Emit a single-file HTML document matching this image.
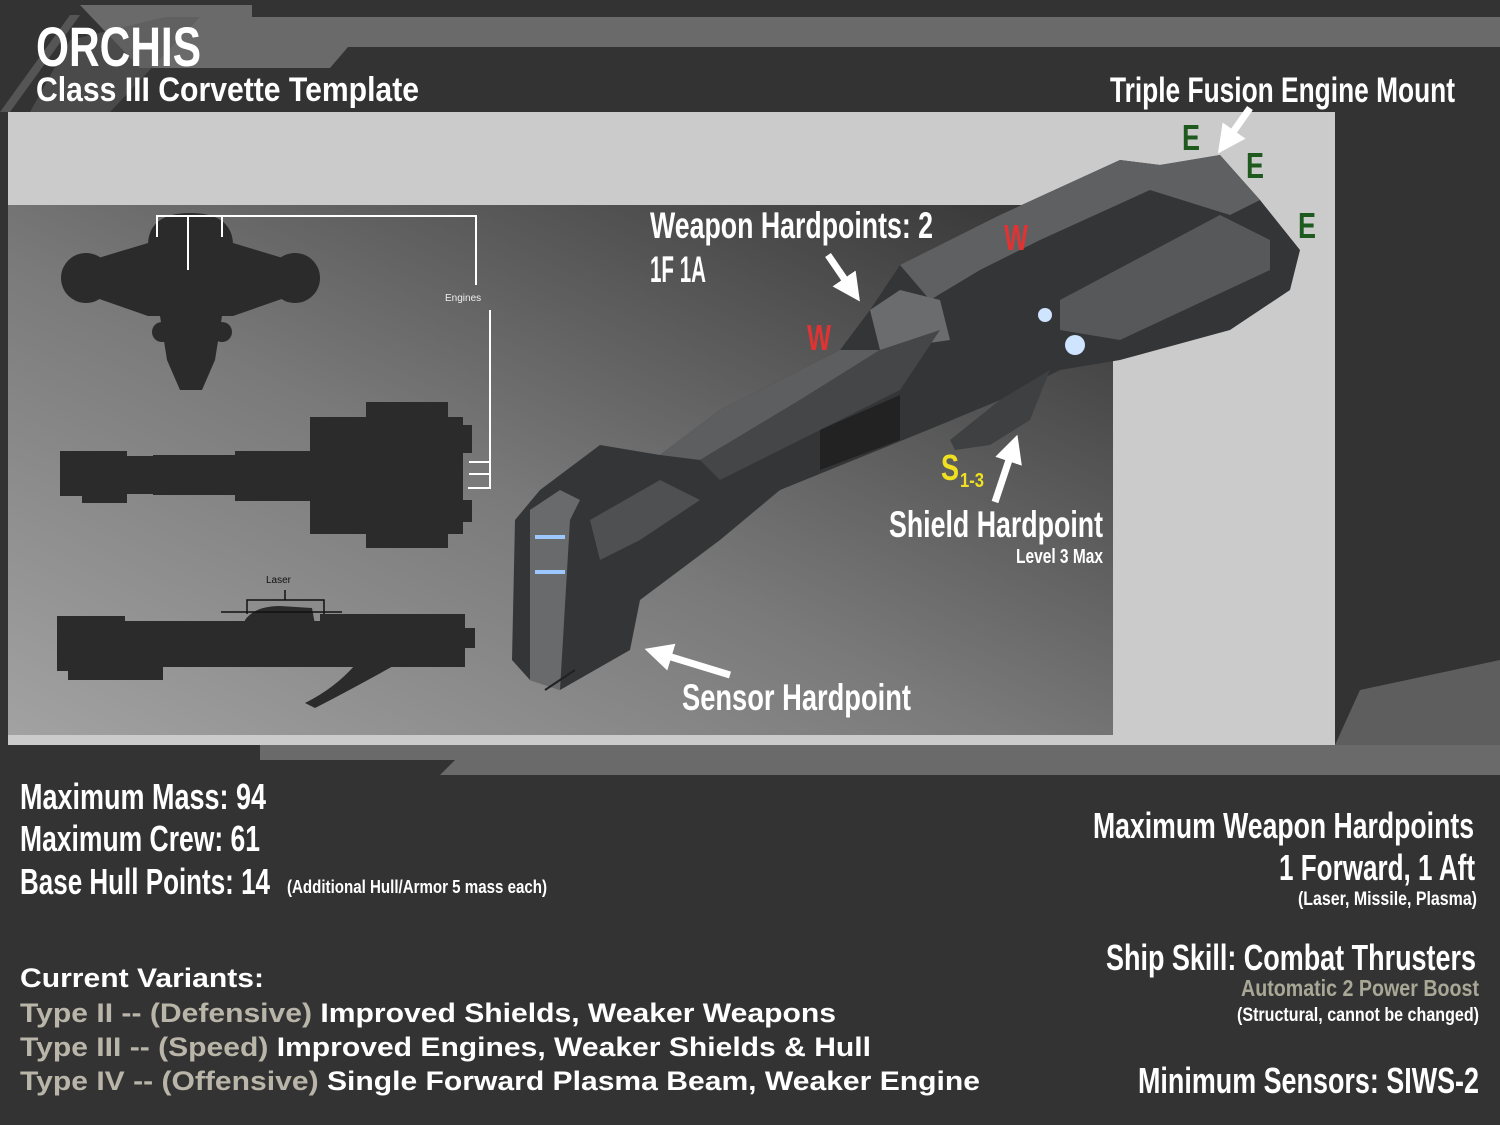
<!DOCTYPE html>
<html><head><meta charset="utf-8"><style>
html,body{margin:0;padding:0;background:#333;}
svg{display:block}
.c{font-family:"Liberation Sans Narrow","Liberation Sans",sans-serif;font-weight:bold;fill:#fff}
.a{font-family:"Liberation Sans",sans-serif;font-weight:bold;fill:#fff}
</style></head><body>
<svg width="1500" height="1125" viewBox="0 0 1500 1125" xmlns="http://www.w3.org/2000/svg">
<defs>
<linearGradient id="g" x1="0" y1="1" x2="1" y2="0">
<stop offset="0" stop-color="#a2a2a2"/><stop offset="0.45" stop-color="#7a7a7a"/><stop offset="1" stop-color="#333"/>
</linearGradient>
<marker id="ah" markerWidth="4" markerHeight="4" refX="2" refY="2" orient="auto"><path d="M0,0 L4,2 L0,4z" fill="#fff"/></marker>
</defs>
<rect width="1500" height="1125" fill="#333"/>
<polygon points="80,5 252,5 252,17 1500,17 1500,47 348,47 330,68 140,68" fill="#6a6a6a"/>
<polygon points="30,112 70,40 165,17 200,17 110,112" fill="#5a5a5a" opacity="0.6"/>
<polygon points="0,112 70,15 80,15 10,112" fill="#777" opacity="0.5"/>
<polygon points="260,745 1500,745 1500,775 440,775 455,760 260,760" fill="#6a6a6a"/>
<polygon points="1335,745 1360,690 1500,660 1500,745" fill="#5e5e5e"/>
<rect x="8" y="112" width="1327" height="633" fill="#cbcbcb"/>
<rect x="8" y="205" width="1105" height="530" fill="url(#g)"/>
<g fill="#2b2b2b">
<circle cx="86" cy="278" r="25"/><circle cx="295" cy="278" r="25"/>
<polygon points="85,262 148,243 148,316 85,294"/><polygon points="296,262 233,243 233,316 296,294"/>
<path d="M148,243 Q150,213 190,213 Q231,213 233,243 L233,316 L148,316z"/>
<circle cx="162" cy="332" r="10"/><circle cx="222" cy="332" r="10"/>
<polygon points="160,316 222,316 215,360 202,390 180,390 167,360"/>
<rect x="60" y="451" width="65" height="45"/><rect x="82" y="451" width="45" height="52"/>
<rect x="125" y="456" width="30" height="38"/><rect x="153" y="455" width="160" height="40"/>
<rect x="235" y="451" width="80" height="50"/>
<rect x="310" y="417" width="153" height="117"/><rect x="366" y="402" width="82" height="146"/>
<rect x="462" y="425" width="10" height="28"/><rect x="462" y="500" width="10" height="22"/>
<rect x="57" y="616" width="68" height="55"/><rect x="125" y="621" width="340" height="46"/>
<rect x="68" y="660" width="95" height="20"/><rect x="320" y="614" width="145" height="20"/>
<path d="M245,620 Q255,606 280,606 L312,608 L316,630 L245,630z"/>
<rect x="465" y="628" width="10" height="20"/>
<path d="M355,665 L395,665 Q350,690 315,708 L305,703 Q335,688 355,665z"/>
</g>
<g stroke="#fff" stroke-width="2" fill="none">
<polyline points="157,237 157,216 476,216 476,285"/>
<line x1="188" y1="216" x2="188" y2="270"/><line x1="222" y1="216" x2="222" y2="237"/>
<polyline points="490,310 490,488 468,488"/>
<line x1="469" y1="462" x2="490" y2="462"/><line x1="469" y1="474" x2="490" y2="474"/>
</g>
<text x="445" y="301" font-family="Liberation Sans" font-size="10" fill="#eee">Engines</text>
<g stroke="#111" stroke-width="1.5" fill="none"><polyline points="247,614 247,600 324,600 324,614"/><line x1="285" y1="600" x2="285" y2="590"/><line x1="221" y1="612" x2="342" y2="612"/></g>
<text x="266" y="583" font-family="Liberation Sans" font-size="10" fill="#111">Laser</text>
<g>
<polygon points="515,520 540,490 600,445 660,455 720,410 840,350 870,310 900,265 1000,215 1120,160 1160,165 1220,155 1260,200 1300,250 1290,290 1230,330 1120,360 1060,370 1000,400 940,425 780,490 720,540 640,600 630,650 560,690 530,680 512,660" fill="#343536"/>
<polygon points="900,265 1000,215 1120,160 1160,165 1220,155 1260,200 1230,215 1150,190 1040,240 980,270 930,300" fill="#5e6062"/>
<polygon points="1060,300 1220,215 1270,240 1270,270 1120,340 1060,330" fill="#56585a"/>
<polygon points="870,310 900,290 940,300 950,340 880,350" fill="#6a6c6e"/>
<polygon points="660,455 720,410 840,350 880,350 800,400 700,460" fill="#5c5e60"/>
<polygon points="700,460 800,400 880,350 940,330 900,390 800,440 720,480" fill="#444648"/>
<polygon points="530,510 560,490 580,500 570,520 560,690 530,680" fill="#686a6c"/>
<polygon points="590,520 660,480 700,500 640,540 600,560" fill="#4e5052"/>
<polygon points="950,440 1000,400 1050,370 1030,420 990,445 955,450" fill="#3f4041"/>
<polygon points="820,430 900,395 900,440 820,470" fill="#222"/>
<circle cx="1045" cy="315" r="7" fill="#cfe4ff"/><circle cx="1075" cy="345" r="10" fill="#cfe4ff"/>
<rect x="535" y="535" width="30" height="4" fill="#9cc8ff"/><rect x="535" y="570" width="30" height="4" fill="#9cc8ff"/>
<line x1="545" y1="690" x2="575" y2="670" stroke="#222" stroke-width="2"/>
</g>
<g stroke="#fff" stroke-width="7" marker-end="url(#ah)">
<line x1="1250" y1="108" x2="1226" y2="142"/>
<line x1="828" y1="255" x2="852" y2="290"/>
<line x1="995" y1="502" x2="1013" y2="448"/>
<line x1="730" y1="675" x2="658" y2="653"/>
</g>
<text class="c" x="36" y="66" font-size="56" textLength="165" lengthAdjust="spacingAndGlyphs">ORCHIS</text>
<text class="c" x="36" y="101" font-size="34" textLength="383" lengthAdjust="spacingAndGlyphs">Class III Corvette Template</text>
<text class="c" x="1110" y="102" font-size="35" textLength="345" lengthAdjust="spacingAndGlyphs">Triple Fusion Engine Mount</text>
<text class="c" x="650" y="238" font-size="37" textLength="283" lengthAdjust="spacingAndGlyphs">Weapon Hardpoints: 2</text>
<text class="c" x="650" y="282" font-size="37" textLength="56" lengthAdjust="spacingAndGlyphs">1F 1A</text>
<text class="c" x="889" y="537" font-size="37" textLength="214" lengthAdjust="spacingAndGlyphs">Shield Hardpoint</text>
<text class="c" x="1016" y="563" font-size="20" textLength="87" lengthAdjust="spacingAndGlyphs">Level 3 Max</text>
<text class="c" x="682" y="710" font-size="37" textLength="229" lengthAdjust="spacingAndGlyphs">Sensor Hardpoint</text>
<g font-family="Liberation Sans Narrow,Liberation Sans,sans-serif" font-weight="bold" font-size="36">
<text x="1182" y="150" fill="#1e5a1e" textLength="18" lengthAdjust="spacingAndGlyphs">E</text><text x="1246" y="178" fill="#1e5a1e" textLength="18" lengthAdjust="spacingAndGlyphs">E</text><text x="1298" y="238" fill="#1e5a1e" textLength="18" lengthAdjust="spacingAndGlyphs">E</text>
<text x="807" y="350" fill="#e03333" textLength="24" lengthAdjust="spacingAndGlyphs">W</text><text x="1004" y="250" fill="#e03333" textLength="24" lengthAdjust="spacingAndGlyphs">W</text>
<text x="941" y="480" fill="#f0e020" textLength="18" lengthAdjust="spacingAndGlyphs">S</text>
</g>
<text x="960" y="487" font-family="Liberation Sans Narrow,Liberation Sans,sans-serif" font-weight="bold" font-size="20" fill="#f0e020" textLength="24" lengthAdjust="spacingAndGlyphs">1-3</text>
<text class="c" x="20" y="809" font-size="36" textLength="246" lengthAdjust="spacingAndGlyphs">Maximum Mass: 94</text>
<text class="c" x="20" y="851" font-size="36" textLength="240" lengthAdjust="spacingAndGlyphs">Maximum Crew: 61</text>
<text class="c" x="20" y="894" font-size="36" textLength="250" lengthAdjust="spacingAndGlyphs">Base Hull Points: 14</text>
<text class="c" x="287" y="893" font-size="18" textLength="260" lengthAdjust="spacingAndGlyphs">(Additional Hull/Armor 5 mass each)</text>
<text class="c" x="1093" y="838" font-size="36" textLength="381" lengthAdjust="spacingAndGlyphs">Maximum Weapon Hardpoints</text>
<text class="c" x="1279" y="880" font-size="36" textLength="196" lengthAdjust="spacingAndGlyphs">1 Forward, 1 Aft</text>
<text class="c" x="1298" y="905" font-size="19" textLength="179" lengthAdjust="spacingAndGlyphs">(Laser, Missile, Plasma)</text>
<text class="c" x="1106" y="970" font-size="36" textLength="370" lengthAdjust="spacingAndGlyphs">Ship Skill: Combat Thrusters</text>
<text class="c" x="1241" y="996" font-size="23" textLength="238" lengthAdjust="spacingAndGlyphs" style="fill:#a9a796">Automatic 2 Power Boost</text>
<text class="c" x="1237" y="1021" font-size="19" textLength="242" lengthAdjust="spacingAndGlyphs">(Structural, cannot be changed)</text>
<text class="c" x="1138" y="1093" font-size="36" textLength="341" lengthAdjust="spacingAndGlyphs">Minimum Sensors: SIWS-2</text>
<text class="a" x="20" y="987" font-size="27" textLength="244" lengthAdjust="spacingAndGlyphs">Current Variants:</text>
<text class="a" x="20" y="1022" font-size="27" textLength="816" lengthAdjust="spacingAndGlyphs"><tspan fill="#b9b5a8">Type II -- (Defensive)</tspan> Improved Shields, Weaker Weapons</text>
<text class="a" x="20" y="1056" font-size="27" textLength="851" lengthAdjust="spacingAndGlyphs"><tspan fill="#b9b5a8">Type III -- (Speed)</tspan> Improved Engines, Weaker Shields &amp; Hull</text>
<text class="a" x="20" y="1090" font-size="27" textLength="960" lengthAdjust="spacingAndGlyphs"><tspan fill="#b9b5a8">Type IV -- (Offensive)</tspan> Single Forward Plasma Beam, Weaker Engine</text>
</svg>
</body></html>
